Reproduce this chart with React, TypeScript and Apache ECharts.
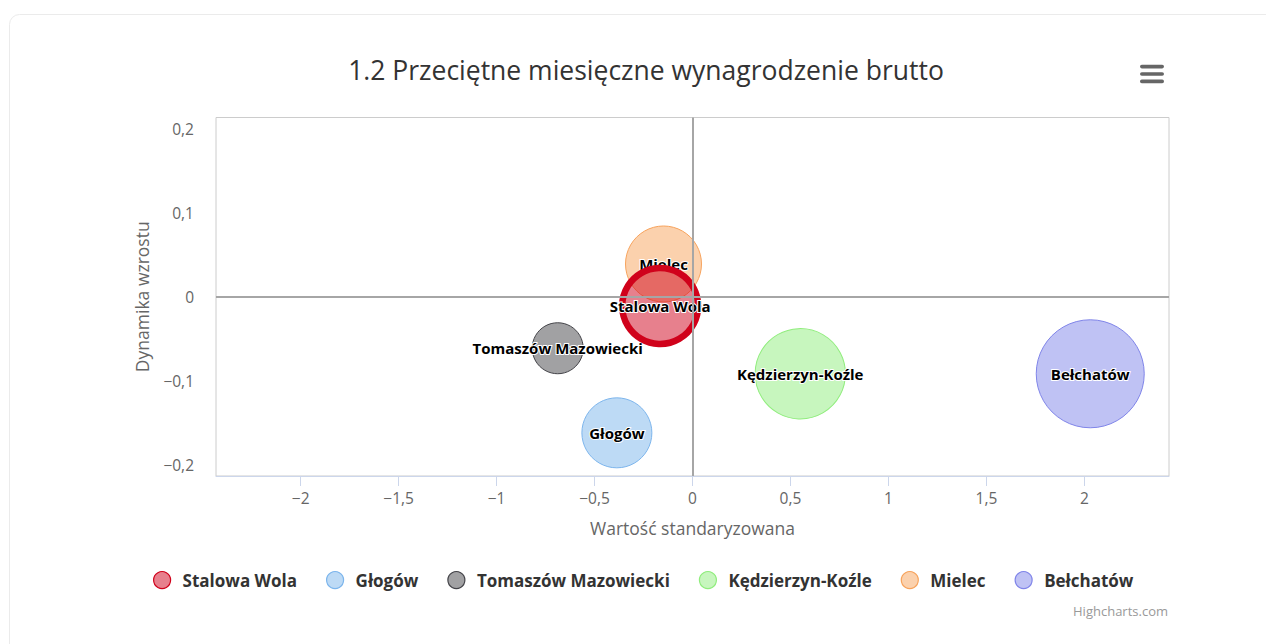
import React, { useEffect, useRef } from "react";
import * as echarts from "echarts";

const seriesNames = ["Stalowa Wola", "Głogów", "Tomaszów Mazowiecki", "Kędzierzyn-Koźle", "Mielec", "Bełchatów"];
const xValues = [-0.165, -0.386, -0.688, 0.55, -0.148, 2.03];
const yValues = [-0.011, -0.162, -0.0613, -0.0917, 0.039, -0.0917];
const zValues = [49.5, 42, 22.3, 70, 49.5, 100];
const baseColors = ["#d0021b", "#7cb5ec", "#434348", "#90ed7d", "#f7a35c", "#8085e9"];
const xTicks = [-2, -1.5, -1, -0.5, 0, 0.5, 1, 1.5, 2];
const yTicks = [-0.2, -0.1, 0, 0.1, 0.2];

const FONT = "'Open Sans', 'Noto Sans', sans-serif";

function hexToRgba(hex: string, a: number) {
  const n = parseInt(hex.slice(1), 16);
  return `rgba(${(n >> 16) & 255},${(n >> 8) & 255},${n & 255},${a})`;
}

function fmt(v: number) {
  const s = String(Math.round(v * 1000) / 1000).replace(".", ",");
  return s.replace("-", "\u2212");
}

export default function App() {
  const ref = useRef<HTMLDivElement>(null);
  useEffect(() => {
    document.body.style.margin = "0";
    const chart = echarts.init(ref.current!, undefined, { renderer: "svg" });
    const series: any[] = seriesNames.map((name, i) => ({
      type: "scatter",
      name,
      z: i === 0 ? 4 : 2,
      data: [[xValues[i], yValues[i], zValues[i]]],
      symbol: "circle",
      symbolSize: (val: number[]) => Math.sqrt(val[2]) * 10.8,
      itemStyle: {
        color: hexToRgba(baseColors[i], 0.5),
        borderColor: baseColors[i],
        borderWidth: i === 0 ? 6.5 : 1,
        opacity: 1,
      },
      label: {
        show: true,
        position: "inside",
        formatter: name,
        color: "#000",
        fontFamily: FONT,
        fontWeight: "bold",
        fontSize: 15,
        textBorderColor: "#fff",
        textBorderWidth: 2,
      },
      emphasis: { disabled: true },
    }));
    series.unshift({
      type: "scatter",
      name: "zero",
      data: [],
      z: 1,
      silent: true,
      markLine: {
        silent: true,
        symbol: "none",
        label: { show: false },
        lineStyle: { color: "#a6a6a6", width: 2, type: "solid" },
        data: [{ xAxis: 0 }, { yAxis: 0 }],
      },
    });
    chart.setOption({
      animation: false,
      backgroundColor: "#ffffff",
      textStyle: { fontFamily: FONT },
      grid: {
        left: 216,
        top: 117.5,
        width: 953,
        height: 358.5,
        show: true,
        borderColor: "#cccccc",
        borderWidth: 1,
        backgroundColor: "transparent",
        containLabel: false,
      },
      xAxis: {
        type: "value",
        min: -2.432,
        max: 2.432,
        splitLine: { show: false },
        axisLine: { show: true, onZero: false, lineStyle: { color: "#ccd6eb", width: 1 } },
        axisTick: { show: true, length: 10, lineStyle: { color: "#ccd6eb" }, customValues: xTicks },
        axisLabel: {
          customValues: xTicks,
          formatter: (v: number) => fmt(v),
          color: "#666666",
          fontSize: 15.5,
          margin: 14,
          fontFamily: FONT,
        },
        name: "Wartość standaryzowana",
        nameLocation: "middle",
        nameGap: 43,
        nameTextStyle: { color: "#666666", fontSize: 17.5, fontFamily: FONT },
      },
      yAxis: {
        type: "value",
        min: -0.2134,
        max: 0.2134,
        splitLine: { show: false },
        axisLine: { show: false },
        axisTick: { show: false },
        axisLabel: {
          customValues: yTicks,
          formatter: (v: number) => fmt(v),
          color: "#666666",
          fontSize: 15.5,
          margin: 22,
          fontFamily: FONT,
        },
        name: "Dynamika wzrostu",
        nameLocation: "middle",
        nameGap: 65,
        nameTextStyle: { color: "#666666", fontSize: 17.5, fontFamily: FONT },
      },
      legend: {
        data: seriesNames,
        left: 148,
        top: 566,
        icon: "circle",
        itemWidth: 31,
        itemHeight: 17,
        itemGap: 29,
        itemStyle: { borderWidth: 1.2 },
        textStyle: { color: "#333333", fontWeight: "bold", fontSize: 17, fontFamily: FONT },
        selectedMode: false,
      },
      graphic: [
        {
          type: "rect",
          silent: true,
          z: -10,
          shape: { x: 9.5, y: 14.5, width: 1300, height: 700, r: 10 },
          style: { fill: "none", stroke: "#ebebeb", lineWidth: 1 },
        },
        {
          type: "text",
          x: 646,
          y: 70,
          style: {
            text: "1.2 Przeciętne miesięczne wynagrodzenie brutto",
            fill: "#333333",
            fontSize: 26.5,
            fontFamily: FONT,
            textAlign: "center",
            textVerticalAlign: "middle",
          },
        },
        { type: "rect", shape: { x: 1140, y: 64.8, width: 24, height: 3.6, r: 1.8 }, style: { fill: "#666666" } },
        { type: "rect", shape: { x: 1140, y: 72.2, width: 24, height: 3.6, r: 1.8 }, style: { fill: "#666666" } },
        { type: "rect", shape: { x: 1140, y: 79.6, width: 24, height: 3.6, r: 1.8 }, style: { fill: "#666666" } },
        {
          type: "text",
          x: 1168,
          y: 611,
          style: {
            text: "Highcharts.com",
            fill: "#999999",
            fontSize: 13,
            fontFamily: FONT,
            textAlign: "right",
            textVerticalAlign: "middle",
          },
        },
      ],
      series,
    });
    return () => chart.dispose();
  }, []);
  return <div ref={ref} style={{ width: 1266, height: 644 }} />;
}
